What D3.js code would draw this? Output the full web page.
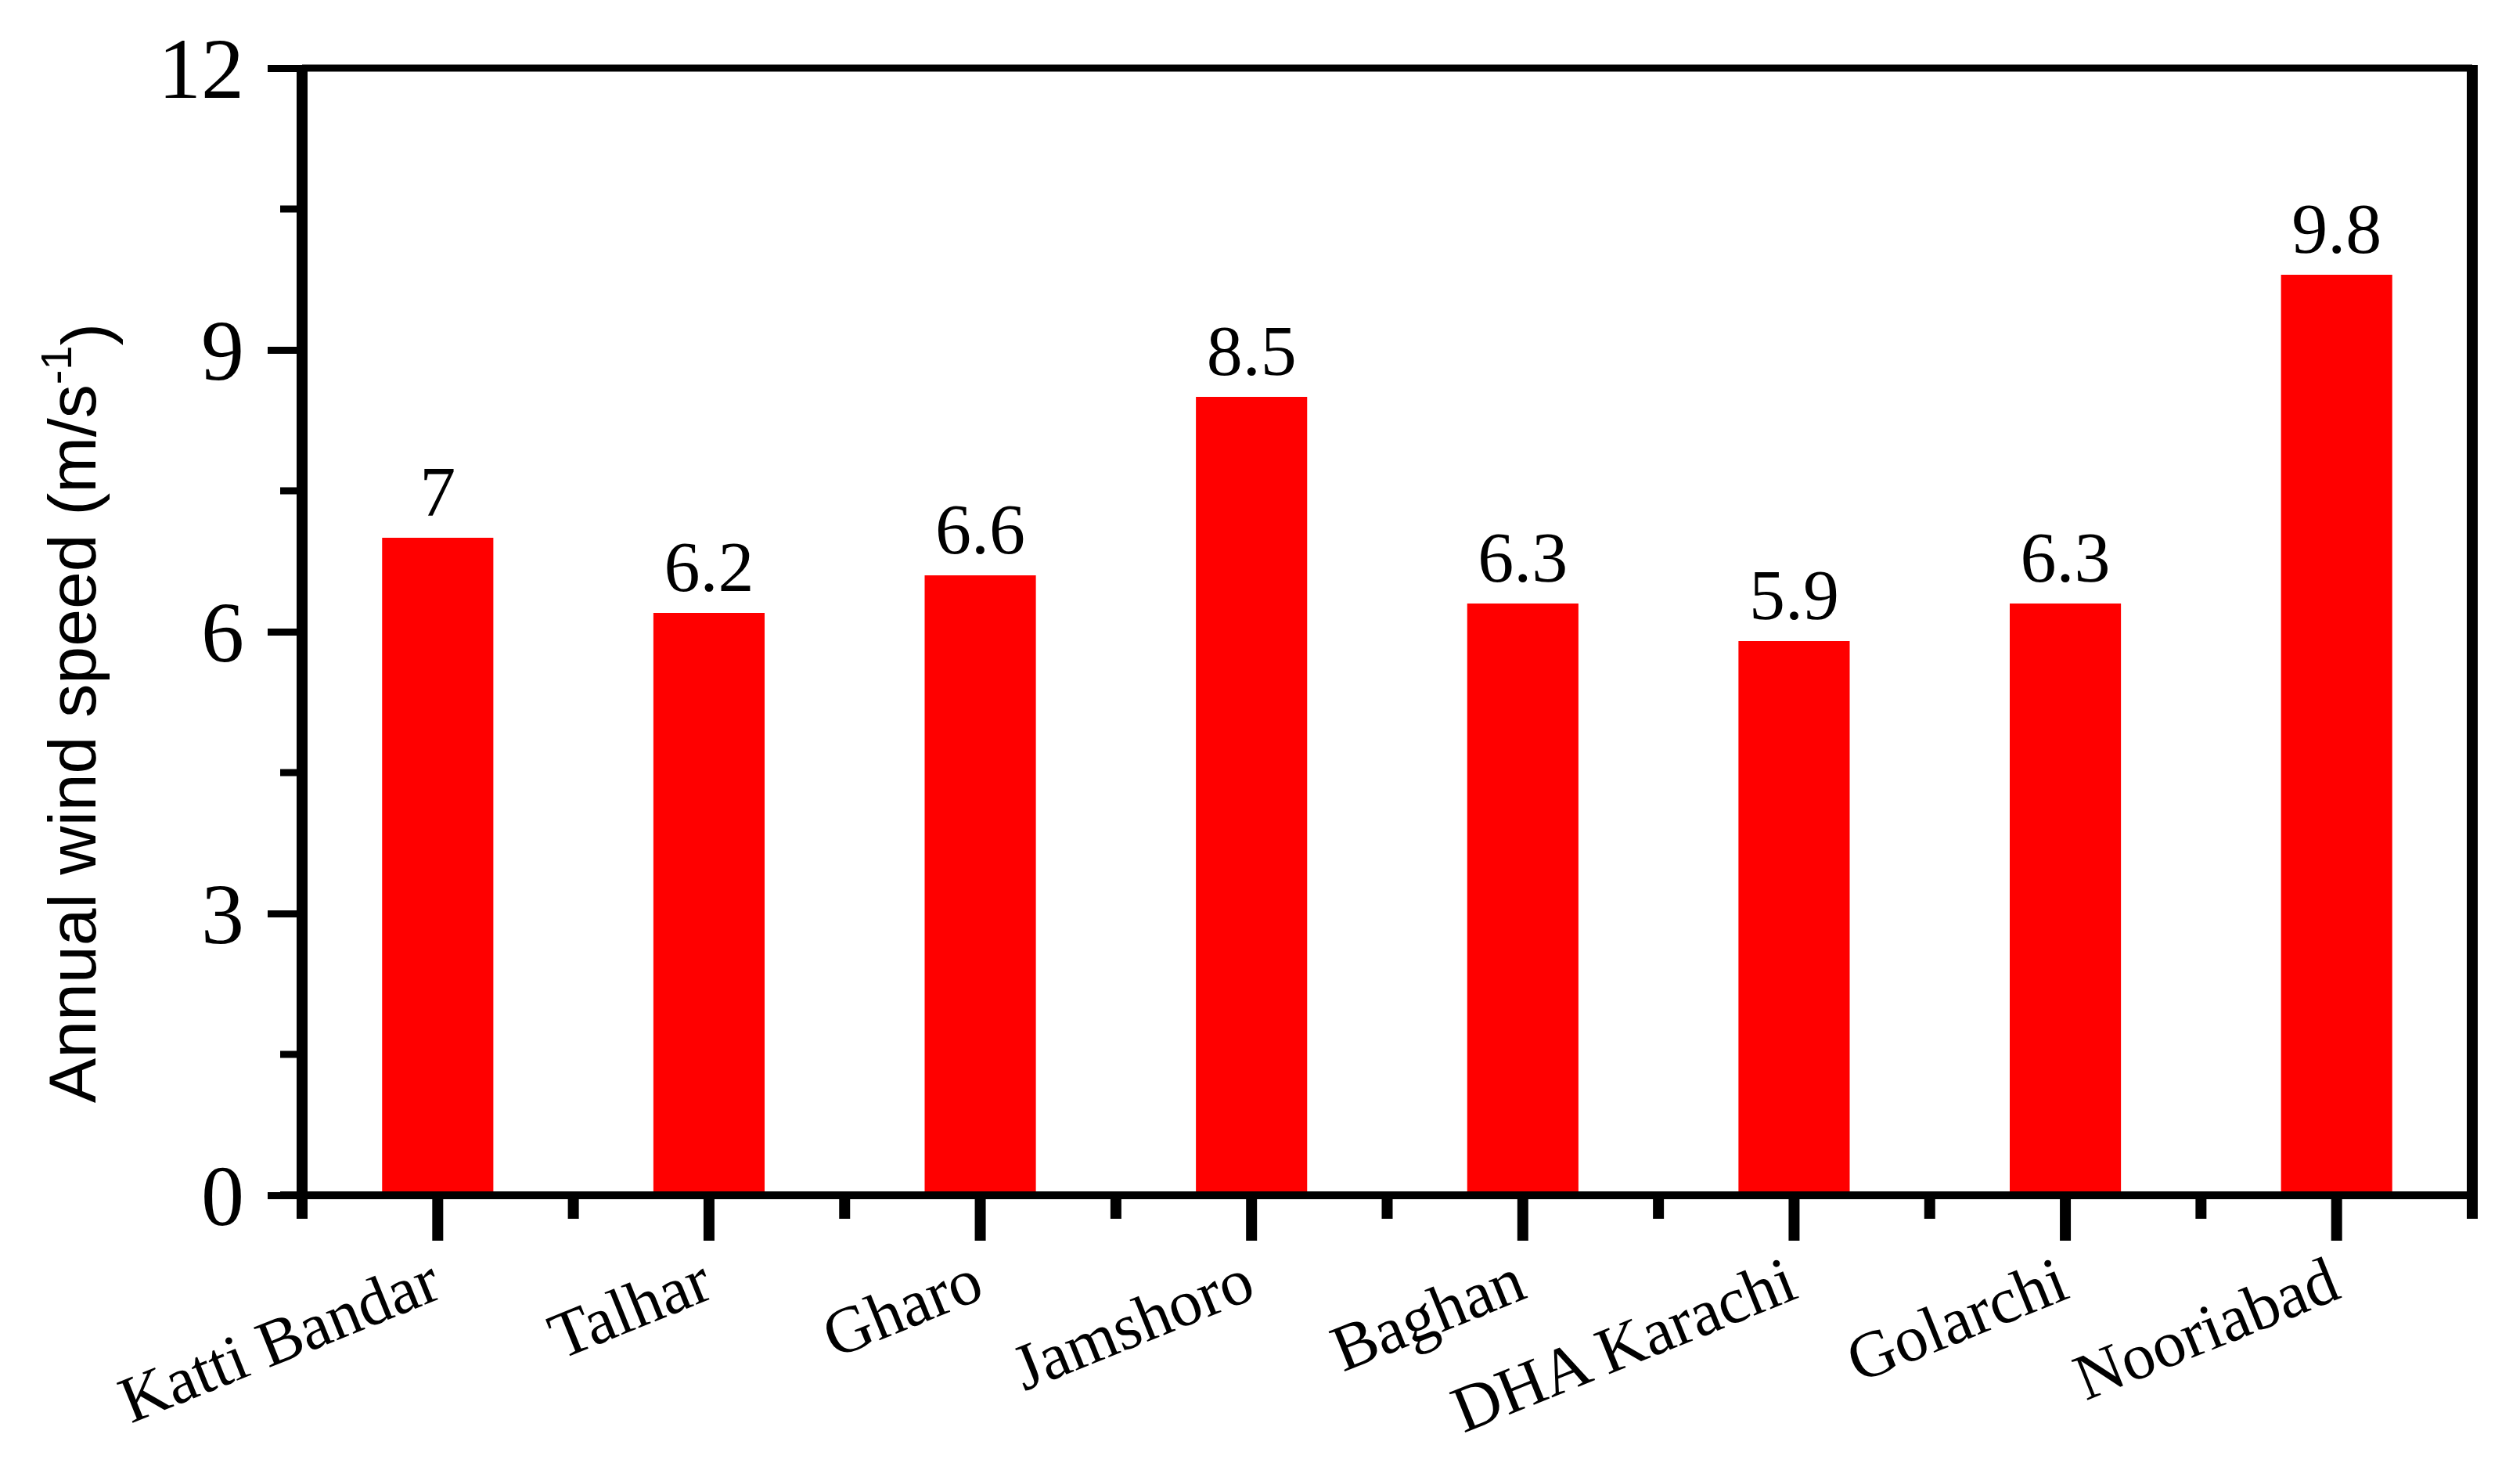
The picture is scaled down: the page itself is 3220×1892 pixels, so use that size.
<!DOCTYPE html>
<html>
<head>
<meta charset="utf-8">
<script src="https://cdn.jsdelivr.net/npm/d3@7"></script>
<style>
  body { margin: 0; background: #fff; }
</style>
</head>
<body>
<svg width="3220" height="1892"></svg>
<script>
const stations = ["Katti Bandar", "Talhar", "Gharo", "Jamshoro", "Baghan", "DHA Karachi", "Golarchi", "Nooriabad"];
const speeds = [7, 6.2, 6.6, 8.5, 6.3, 5.9, 6.3, 9.8];
const speedLabels = ["7", "6.2", "6.6", "8.5", "6.3", "5.9", "6.3", "9.8"];
const yTicks = [0, 3, 6, 9, 12];

const svg = d3.select("svg");
const plotLeft = 386, plotRight = 3159, plotTop = 87, plotBottom = 1527;

const x = d3.scaleBand().domain(stations).range([plotLeft, plotRight]).paddingInner(0.59).paddingOuter(0.295);
const y = d3.scaleLinear().domain([0, 12]).range([plotBottom, plotTop]);
const serif = "'Liberation Serif', 'Times New Roman', serif";
const gap = x.step() - x.bandwidth();

// bars
svg.append("g").selectAll("rect")
    .data(stations)
    .enter().append("rect")
        .attr("x", d => x(d))
        .attr("y", (d, i) => y(speeds[i]))
        .attr("width", x.bandwidth())
        .attr("height", (d, i) => plotBottom - y(speeds[i]))
        .attr("fill", "#ff0000");

// value labels
svg.append("g").selectAll("text")
    .data(stations)
    .enter().append("text")
        .attr("x", d => x(d) + x.bandwidth() / 2)
        .attr("y", (d, i) => y(speeds[i]) - 28)
        .attr("text-anchor", "middle")
        .style("font-family", serif)
        .style("font-size", "92px")
        .text((d, i) => speedLabels[i]);

// frame
svg.append("line").attr("x1", plotLeft).attr("x2", plotRight).attr("y1", plotTop).attr("y2", plotTop)
    .attr("stroke", "#000").attr("stroke-width", 9);
svg.append("line").attr("x1", plotRight).attr("x2", plotRight).attr("y1", plotTop - 4).attr("y2", plotBottom + 30)
    .attr("stroke", "#000").attr("stroke-width", 14);
svg.append("line").attr("x1", plotLeft).attr("x2", plotLeft).attr("y1", plotTop - 4).attr("y2", plotBottom + 30)
    .attr("stroke", "#000").attr("stroke-width", 14);

// y axis
const yAxis = d3.axisLeft(y).tickValues(yTicks).tickSize(44).tickPadding(30);
const gy = svg.append("g").attr("transform", `translate(${plotLeft},0)`).call(yAxis);
gy.select(".domain").remove();
gy.selectAll(".tick line").attr("stroke-width", 9);
gy.selectAll("text").style("font-family", serif).style("font-size", "110px").attr("dy", "0.34em");
svg.append("g").selectAll("line")
    .data([1.5, 4.5, 7.5, 10.5])
    .enter().append("line")
        .attr("x1", plotLeft - 28).attr("x2", plotLeft)
        .attr("y1", d => y(d)).attr("y2", d => y(d))
        .attr("stroke", "#000").attr("stroke-width", 9);

// x axis
svg.append("line").attr("x1", plotLeft - 28).attr("x2", plotRight).attr("y1", plotBottom).attr("y2", plotBottom)
    .attr("stroke", "#000").attr("stroke-width", 10);
svg.append("g").selectAll("line")
    .data(stations)
    .enter().append("line")
        .attr("x1", d => x(d) + x.bandwidth() / 2).attr("x2", d => x(d) + x.bandwidth() / 2)
        .attr("y1", plotBottom).attr("y2", plotBottom + 58)
        .attr("stroke", "#000").attr("stroke-width", 14);
svg.append("g").selectAll("line")
    .data(stations.slice(1))
    .enter().append("line")
        .attr("x1", d => x(d) - gap / 2).attr("x2", d => x(d) - gap / 2)
        .attr("y1", plotBottom).attr("y2", plotBottom + 30)
        .attr("stroke", "#000").attr("stroke-width", 14);

svg.append("g").selectAll("text")
    .data(stations)
    .enter().append("text")
        .attr("transform", d => `translate(${x(d) + x.bandwidth() / 2 + 8},${plotBottom + 130}) rotate(-22)`)
        .attr("text-anchor", "end")
        .style("font-family", serif)
        .style("font-size", "84px")
        .text(d => d);

// y title
const title = svg.append("text")
    .attr("transform", `translate(122,${(495 + 1327) / 2}) rotate(-90)`)
    .attr("text-anchor", "middle")
    .style("font-family", "'Liberation Sans Narrow', 'Liberation Sans', Arial, sans-serif")
    .style("font-size", "86px");
title.append("tspan").text("Annual wind speed (m/s");
title.append("tspan").attr("dy", "-0.55em").style("font-size", "56px").text("-1");
title.append("tspan").attr("dy", "0.55em").text(")");
</script>
</body>
</html>
